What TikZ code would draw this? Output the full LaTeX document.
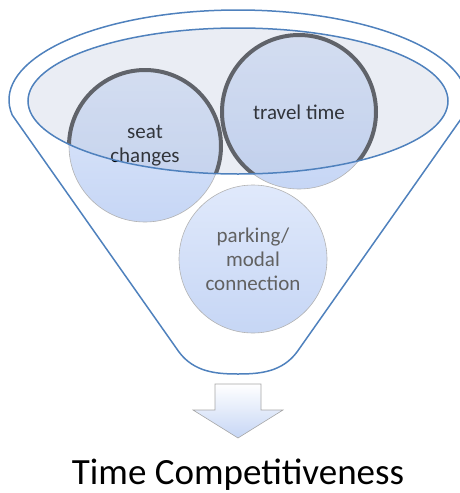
\documentclass[tikz,border=0pt]{standalone}
\usepackage{fontspec}
\setmainfont{Carlito}
\definecolor{funnelblue}{RGB}{79,129,189}
\definecolor{bubbletop}{RGB}{224,233,251}
\definecolor{bubblebot}{RGB}{198,214,245}
\definecolor{lidgray}{RGB}{180,192,215}

\begin{document}
\begin{tikzpicture}[x=1pt,y=-1pt,
  funnel/.style={draw=funnelblue, line width=1.5pt},
  bubble/.style={circle, minimum size=#1, inner sep=0pt, align=center,
    draw=black!30, line width=0.6pt, top color=bubbletop, bottom color=bubblebot,
    font=\fontsize{21}{24}\selectfont},
  rim/.style={draw=black!75, line width=4pt}]
  \useasboundingbox (0,0) rectangle (459,493);

  % funnel body
  \draw[funnel] (238,100) ++(170.4:229 and 90)
    arc[start angle=170.4, end angle=369.6, x radius=229, y radius=90]
    -- (297,352) .. controls (282,372) and (260,374) .. (238,374)
    .. controls (216,374) and (194,372) .. (179,352) -- cycle;

  % the three bubbles
  \node[bubble=152pt] (seat) at (145,146) {seat\\changes};
  \node[bubble=154pt] (travel) at (299,112) {travel time};
  \node[bubble=148pt, text=black!62] (parking) at (253,259) {parking/\\modal\\connection};

  \begin{scope}
    \clip (238,101) ellipse[x radius=210, y radius=73];
    \draw[rim] (seat) circle[radius=76];
    \draw[rim] (travel) circle[radius=77];
  \end{scope}

  % lid of the funnel
  \draw[funnel, fill=lidgray, fill opacity=0.28] (238,101) ellipse[x radius=210, y radius=73];

  % result
  \draw[draw=black!35, line width=0.6pt, top color=white, bottom color=bubblebot]
    (215,384) -- (261,384) -- (261,410) -- (283,410) -- (238,438)
    -- (193,410) -- (215,410) -- cycle;
  \node[anchor=base, font=\fontsize{37}{40}\selectfont] (result) at (238,484) {Time Competitiveness};
\end{tikzpicture}
\end{document}
